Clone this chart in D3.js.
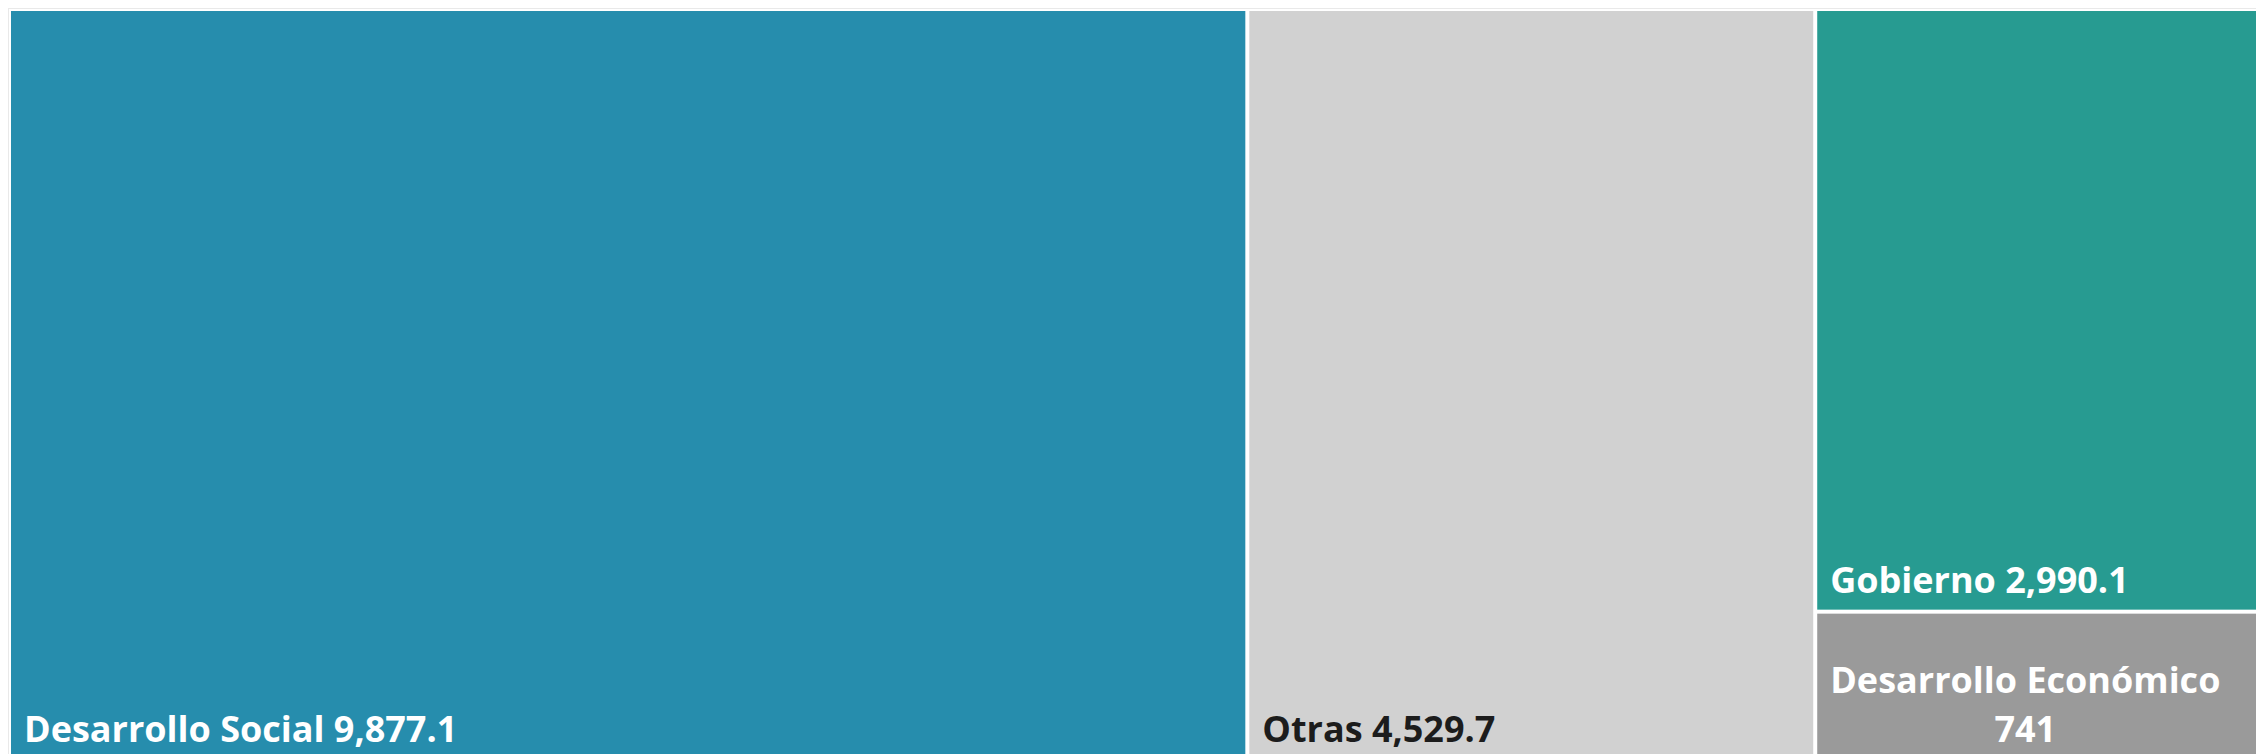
<!DOCTYPE html>
<html lang="es">

<head>
    <meta charset="UTF-8">
    <title>Treemap</title>
    <script src="https://d3js.org/d3.v7.min.js"></script>
    <style>
        html, body { margin: 0; padding: 0; background: #fff; overflow: hidden; }
        text { font-family: "Segoe UI", "Open Sans", sans-serif; font-weight: 700; }
    </style>
</head>

<body>
    <script>
        const width = 2256;
        const height = 754;

        // datos
        const categories = ["Desarrollo Social", "Otras", "Gobierno", "Desarrollo Económico"];
        const values = [9877.1, 4529.7, 2990.1, 741];
        const colors = ["#268dad", "#d1d1d1", "#279b91", "#9a9a9a"];
        const labelColors = ["#ffffff", "#1c1c1c", "#ffffff", "#ffffff"];
        const valueLabels = ["9,877.1", "4,529.7", "2,990.1", "741"];

        // el visual original está recortado a la derecha y abajo
        const tmW = 2270, tmH = 748;
        const fontSize = 36;

        const svg = d3.select("body").append("svg")
            .attr("width", width)
            .attr("height", height);

        // marco tenue
        svg.append("rect")
            .attr("x", 8.5).attr("y", 8.5)
            .attr("width", width).attr("height", height)
            .attr("fill", "none")
            .attr("stroke", "#e9e9e9");

        // squarify clásico (Bruls et al.), fila a fila sobre el lado corto
        function classicSquarify(parent, x0, y0, x1, y1) {
            const nodes = parent.children;
            const n = nodes.length;
            let remaining = parent.value;
            let i = 0;
            const worst = (sum, min, max, side, k) => {
                const s2 = side * side, a = sum * sum * k;
                return Math.max(s2 * max / a, a / (s2 * min));
            };
            while (i < n) {
                const dx = x1 - x0, dy = y1 - y0;
                const k = (dx * dy) / remaining; // área por unidad
                const side = Math.min(dx, dy);
                let sum = nodes[i].value, min = sum, max = sum;
                let best = worst(sum, min, max, side, k);
                let j = i + 1;
                for (; j < n; j++) {
                    const v = nodes[j].value;
                    const nsum = sum + v, nmin = Math.min(min, v), nmax = Math.max(max, v);
                    const r = worst(nsum, nmin, nmax, side, k);
                    if (r > best) break;
                    sum = nsum; min = nmin; max = nmax; best = r;
                }
                const row = nodes.slice(i, j);
                if (dx >= dy) {
                    const w = sum * k / dy;
                    let y = y0;
                    row.forEach(c => {
                        c.x0 = x0; c.x1 = x0 + w;
                        c.y0 = y; y += c.value * k / w; c.y1 = y;
                    });
                    x0 += w;
                } else {
                    const h = sum * k / dx;
                    let x = x0;
                    row.forEach(c => {
                        c.y0 = y0; c.y1 = y0 + h;
                        c.x0 = x; x += c.value * k / h; c.x1 = x;
                    });
                    y0 += h;
                }
                remaining -= sum;
                i = j;
            }
        }

        const data = {
            name: "root",
            children: categories.map((c, i) => ({ name: c, value: values[i], idx: i }))
        };

        const root = d3.hierarchy(data).sum(d => d.value || 0);
        d3.treemap()
            .tile(classicSquarify)
            .size([tmW, tmH])
            .paddingInner(4)(root);

        const g = svg.append("g").attr("transform", "translate(11,11)");

        const cells = g.selectAll(".cell")
            .data(root.leaves())
            .enter().append("g")
            .attr("class", "cell")
            .attr("transform", d => `translate(${d.x0},${d.y0})`);

        cells.append("rect")
            .attr("width", d => d.x1 - d.x0)
            .attr("height", d => d.y1 - d.y0)
            .attr("fill", d => colors[d.data.idx]);

        const visibleW = d => Math.min(d.x1, width - 11) - d.x0;

        cells.each(function (d) {
            const i = d.data.idx;
            const cell = d3.select(this);
            const h = d.y1 - d.y0;
            const label = categories[i] + " " + valueLabels[i];
            const t = cell.append("text")
                .attr("fill", labelColors[i])
                .style("font-size", fontSize + "px")
                .attr("x", 13)
                .attr("y", h - 17)
                .text(label);
            // si no cabe, partir en dos líneas centradas
            if (t.node().getComputedTextLength() > visibleW(d) - 20) {
                t.remove();
                const lines = [categories[i], valueLabels[i]];
                const w0 = cell.append("text").style("font-size", fontSize + "px").text(lines[0]);
                const blockW = w0.node().getComputedTextLength();
                w0.remove();
                const cx = 13 + blockW / 2;
                lines.forEach((ln, k) => {
                    cell.append("text")
                        .attr("fill", labelColors[i])
                        .style("font-size", fontSize + "px")
                        .attr("text-anchor", "middle")
                        .attr("x", cx)
                        .attr("y", h - 17 - (lines.length - 1 - k) * 49)
                        .text(ln);
                });
            }
        });
    </script>
</body>

</html>
